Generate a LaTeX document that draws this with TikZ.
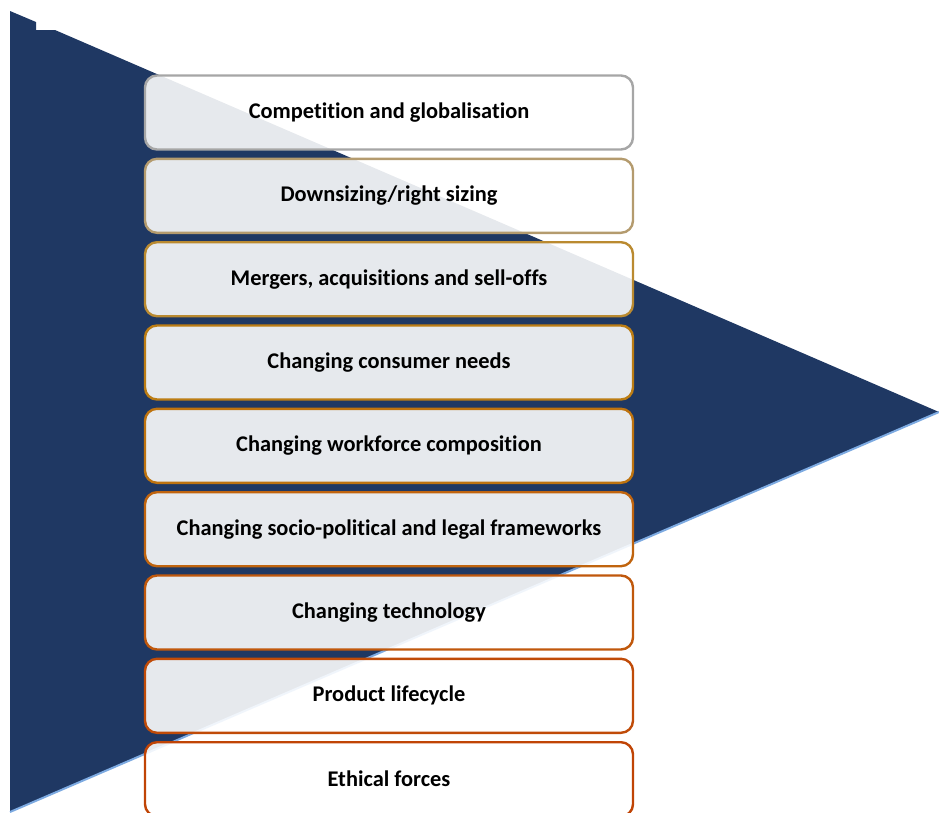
\documentclass[tikz,border=0pt]{standalone}
\usepackage{fontspec}
\setmainfont{Carlito}[Ligatures=NoCommon]
\begin{document}
\begin{tikzpicture}[x=1pt,y=-1pt,
  factorbox/.style={draw=#1, line width=2.4pt, rounded corners=12pt, fill=white, fill opacity=0.89, text opacity=1, draw opacity=1,
    minimum width=488pt, minimum height=74pt, inner sep=0pt, font=\bfseries\fontsize{22.4}{26}\selectfont, text=black}]
\definecolor{navy}{RGB}{31,56,99}
\definecolor{edgeblue}{RGB}{125,170,225}
\definecolor{b1}{RGB}{166,166,166}
\definecolor{b2}{RGB}{180,155,110}
\definecolor{b3}{RGB}{186,138,48}
\definecolor{b4}{RGB}{188,125,20}
\definecolor{b5}{RGB}{190,115,15}
\definecolor{b6}{RGB}{192,100,14}
\definecolor{b7}{RGB}{192,88,12}
\definecolor{b8}{RGB}{192,75,8}
\definecolor{b9}{RGB}{192,68,5}
\useasboundingbox (0,0) rectangle (939,812);
\fill[navy] (10,11) -- (36,22) -- (36,30) -- (55,30) -- (939,412) -- (10,812) -- cycle;
\draw[edgeblue, line width=2pt] (939,412) -- (10,812);
\node[factorbox=b1] (f1) at (389,112.5) {Competition and globalisation};
\node[factorbox=b2] (f2) at (389,195.8) {Downsizing/right sizing};
\node[factorbox=b3] (f3) at (389,279.2) {Mergers, acquisitions and sell-offs};
\node[factorbox=b4] (f4) at (389,362.5) {Changing consumer needs};
\node[factorbox=b5] (f5) at (389,445.8) {Changing workforce composition};
\node[factorbox=b6] (f6) at (389,529.2) {Changing socio-political and legal frameworks};
\node[factorbox=b7] (f7) at (389,612.5) {Changing technology};
\node[factorbox=b8] (f8) at (389,695.8) {Product lifecycle};
\node[factorbox=b9] (f9) at (389,779.2) {Ethical forces};
\end{tikzpicture}
\end{document}
